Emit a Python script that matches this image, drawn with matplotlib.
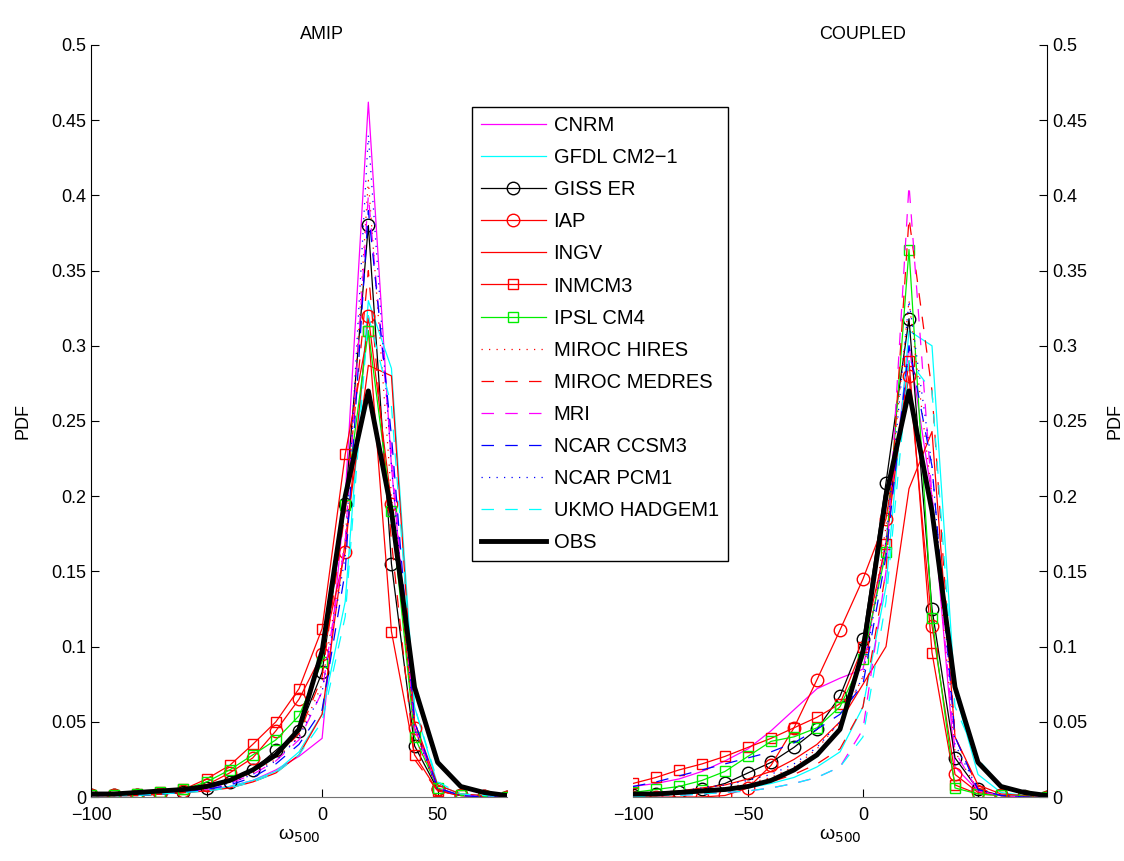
import numpy as np
import matplotlib
matplotlib.use('Agg')
from matplotlib import pyplot as plt

plt.rcParams['font.family'] = ['Liberation Sans', 'DejaVu Sans']

omega = np.arange(-100, 81, 10)

models = ['CNRM', 'GFDL CM2\u22121', 'GISS ER', 'IAP', 'INGV', 'INMCM3', 'IPSL CM4',
          'MIROC HIRES', 'MIROC MEDRES', 'MRI', 'NCAR CCSM3', 'NCAR PCM1', 'UKMO HADGEM1']

# AMIP
cnrm_a = [0.001, 0.001, 0.002, 0.002, 0.003, 0.005, 0.007, 0.011, 0.018, 0.027, 0.039, 0.2, 0.462, 0.22, 0.05, 0.005, 0.001, 0.0005, 0]
gfdl_a = [0.001, 0.001, 0.001, 0.002, 0.003, 0.004, 0.007, 0.011, 0.017, 0.03, 0.055, 0.13, 0.33, 0.285, 0.06, 0.008, 0.002, 0.001, 0]
giss_a = [0.001, 0.001, 0.001, 0.002, 0.003, 0.006, 0.01, 0.018, 0.031, 0.044, 0.083, 0.195, 0.38, 0.155, 0.034, 0.005, 0.001, 0.0005, 0]
iap_a = [0.001, 0.001, 0.001, 0.002, 0.004, 0.008, 0.016, 0.026, 0.044, 0.065, 0.095, 0.163, 0.32, 0.195, 0.046, 0.005, 0.001, 0.0005, 0]
ingv_a = [0.001, 0.001, 0.001, 0.002, 0.003, 0.004, 0.006, 0.01, 0.016, 0.028, 0.055, 0.17, 0.287, 0.28, 0.05, 0.008, 0.002, 0.001, 0]
inmcm_a = [0.001, 0.001, 0.002, 0.003, 0.005, 0.012, 0.021, 0.035, 0.05, 0.072, 0.112, 0.228, 0.31, 0.11, 0.028, 0.004, 0.001, 0.0005, 0]
ipsl_a = [0.001, 0.001, 0.002, 0.003, 0.005, 0.01, 0.018, 0.028, 0.038, 0.054, 0.09, 0.194, 0.31, 0.19, 0.04, 0.006, 0.001, 0.0005, 0]
hires_a = [0.001, 0.001, 0.002, 0.003, 0.004, 0.006, 0.01, 0.016, 0.025, 0.04, 0.075, 0.17, 0.41, 0.2, 0.04, 0.005, 0.001, 0.0005, 0]
medres_a = [0.001, 0.001, 0.002, 0.003, 0.004, 0.006, 0.01, 0.017, 0.027, 0.042, 0.08, 0.19, 0.35, 0.17, 0.025, 0.004, 0.001, 0.0005, 0]
mri_a = [0.001, 0.001, 0.002, 0.003, 0.004, 0.006, 0.009, 0.015, 0.024, 0.038, 0.07, 0.17, 0.4, 0.23, 0.045, 0.006, 0.001, 0.0005, 0]
ccsm_a = [0.001, 0.001, 0.001, 0.002, 0.003, 0.005, 0.008, 0.013, 0.022, 0.035, 0.058, 0.15, 0.39, 0.24, 0.05, 0.006, 0.001, 0, 0]
pcm_a = [0.001, 0.001, 0.002, 0.003, 0.004, 0.006, 0.009, 0.015, 0.024, 0.04, 0.07, 0.16, 0.44, 0.22, 0.045, 0.005, 0.001, 0, 0]
ukmo_a = [0.001, 0.001, 0.001, 0.002, 0.003, 0.004, 0.006, 0.01, 0.016, 0.028, 0.05, 0.12, 0.32, 0.26, 0.06, 0.01, 0.002, 0.001, 0]

# COUPLED
cnrm_c = [0.007, 0.009, 0.012, 0.017, 0.024, 0.032, 0.044, 0.058, 0.072, 0.079, 0.085, 0.17, 0.3, 0.2, 0.02, 0.004, 0.001, 0.0005, 0]
gfdl_c = [0.001, 0.001, 0.002, 0.003, 0.004, 0.006, 0.009, 0.013, 0.02, 0.03, 0.06, 0.14, 0.31, 0.3, 0.07, 0.015, 0.003, 0.001, 0]
giss_c = [0.001, 0.002, 0.003, 0.005, 0.009, 0.016, 0.023, 0.033, 0.045, 0.067, 0.105, 0.209, 0.318, 0.125, 0.026, 0.005, 0.001, 0.0005, 0]
iap_c = [0, 0, 0, 0, 0.001, 0.006, 0.021, 0.046, 0.078, 0.111, 0.145, 0.185, 0.28, 0.114, 0.015, 0.003, 0.001, 0, 0]
ingv_c = [0.002, 0.003, 0.004, 0.006, 0.008, 0.012, 0.017, 0.025, 0.035, 0.05, 0.075, 0.1, 0.205, 0.243, 0.04, 0.008, 0.002, 0.001, 0]
inmcm_c = [0.009, 0.013, 0.018, 0.022, 0.027, 0.033, 0.039, 0.046, 0.053, 0.062, 0.1, 0.168, 0.29, 0.096, 0.008, 0.002, 0.001, 0.0005, 0]
ipsl_c = [0.003, 0.005, 0.007, 0.011, 0.017, 0.027, 0.037, 0.04, 0.046, 0.06, 0.092, 0.163, 0.364, 0.119, 0.006, 0.002, 0.001, 0.0005, 0]
hires_c = [0.001, 0.002, 0.003, 0.004, 0.006, 0.009, 0.013, 0.02, 0.032, 0.05, 0.08, 0.18, 0.33, 0.2, 0.03, 0.005, 0.001, 0, 0]
medres_c = [0.001, 0.001, 0.002, 0.003, 0.005, 0.007, 0.01, 0.015, 0.022, 0.032, 0.06, 0.15, 0.385, 0.27, 0.04, 0.006, 0.001, 0, 0]
mri_c = [0, 0.001, 0.001, 0.002, 0.003, 0.004, 0.006, 0.009, 0.013, 0.02, 0.045, 0.15, 0.407, 0.2, 0.03, 0.004, 0.001, 0, 0]
ccsm_c = [0.007, 0.01, 0.014, 0.018, 0.022, 0.026, 0.03, 0.036, 0.045, 0.055, 0.075, 0.16, 0.3, 0.22, 0.04, 0.005, 0.001, 0, 0]
pcm_c = [0.002, 0.003, 0.004, 0.006, 0.008, 0.011, 0.015, 0.022, 0.033, 0.05, 0.08, 0.17, 0.33, 0.22, 0.035, 0.005, 0.001, 0, 0]
ukmo_c = [0, 0.001, 0.001, 0.002, 0.003, 0.004, 0.006, 0.009, 0.013, 0.02, 0.04, 0.13, 0.29, 0.27, 0.06, 0.025, 0.008, 0.002, 0]

obs = [0.002, 0.002, 0.003, 0.004, 0.005, 0.007, 0.011, 0.018, 0.028, 0.045, 0.097, 0.2, 0.27, 0.19, 0.073, 0.023, 0.007, 0.003, 0.001]

amip = [cnrm_a, gfdl_a, giss_a, iap_a, ingv_a, inmcm_a, ipsl_a, hires_a, medres_a, mri_a, ccsm_a, pcm_a, ukmo_a]
coupled = [cnrm_c, gfdl_c, giss_c, iap_c, ingv_c, inmcm_c, ipsl_c, hires_c, medres_c, mri_c, ccsm_c, pcm_c, ukmo_c]

# matlab-ish colours
mag, cyan, red, grn, blue = '#ff00ff', '#00ffff', '#ff0000', '#00ee00', '#0000ff'
dash = (0, (10, 9))
dot = (0, (1, 5))
# colour, linestyle, marker, markersize
styles = [(mag, '-', None, 0), (cyan, '-', None, 0), ('k', '-', 'o', 9), (red, '-', 'o', 9),
          (red, '-', None, 0), (red, '-', 's', 7), (grn, '-', 's', 7),
          (red, dot, None, 0), (red, dash, None, 0), (mag, dash, None, 0),
          (blue, dash, None, 0), (blue, dot, None, 0), (cyan, dash, None, 0)]

fig = plt.figure(figsize=(11.24, 8.61), dpi=100)
ax1 = fig.add_axes([91/1124, 1-797/861, 416/1124, 752/861])
ax2 = fig.add_axes([633/1124, 1-797/861, 414/1124, 752/861])

for ax, data, title in [(ax1, amip, 'AMIP'), (ax2, coupled, 'COUPLED')]:
    for name, vals, (col, ls, mk, ms) in zip(models, data, styles):
        ax.plot(omega, vals, color=col, linestyle=ls, marker=mk, markersize=ms,
                markerfacecolor='none', markeredgecolor=col, linewidth=0.9, label=name)
    ax.plot(omega, obs, color='k', linewidth=3.5, label='OBS')
    ax.set_xlim(-100, 80)
    ax.set_ylim(0, 0.5)
    ax.set_xticks([-100, -50, 0, 50])
    ax.set_xticklabels(['\u2212100', '\u221250', '0', '50'])
    ax.set_yticks(np.arange(0, 0.51, 0.05))
    ax.set_yticklabels(['0'] + ['%g' % v for v in np.arange(0.05, 0.51, 0.05)])
    ax.tick_params(direction='in', labelsize=13, length=6)
    ax.tick_params(axis='x', pad=7)
    ax.spines['top'].set_visible(False)
    ax.spines['bottom'].set_color('0.45')
    ax.set_xlabel('\u03c9$_{500}$', fontsize=14, labelpad=2)
    ax.set_ylabel('PDF', fontsize=13, labelpad=14)
    ax.text(0, 0.504, title, ha='center', va='baseline', fontsize=13)

ax1.spines['right'].set_visible(False)
ax2.spines['left'].set_visible(False)
ax2.yaxis.tick_right()
ax2.yaxis.set_label_position('right')

handles, labels = ax1.get_legend_handles_labels()
leg = fig.legend(handles, labels, loc='upper left', bbox_to_anchor=(472/1124, 1-107/861),
                 borderaxespad=0, fontsize=14.5, numpoints=1, handlelength=3.2,
                 handletextpad=0.4, labelspacing=0.65, fancybox=False, framealpha=1,
                 borderpad=0.45)
leg.get_frame().set_edgecolor('k')
leg.get_frame().set_linewidth(1.0)

plt.savefig('out.png', dpi=100)
